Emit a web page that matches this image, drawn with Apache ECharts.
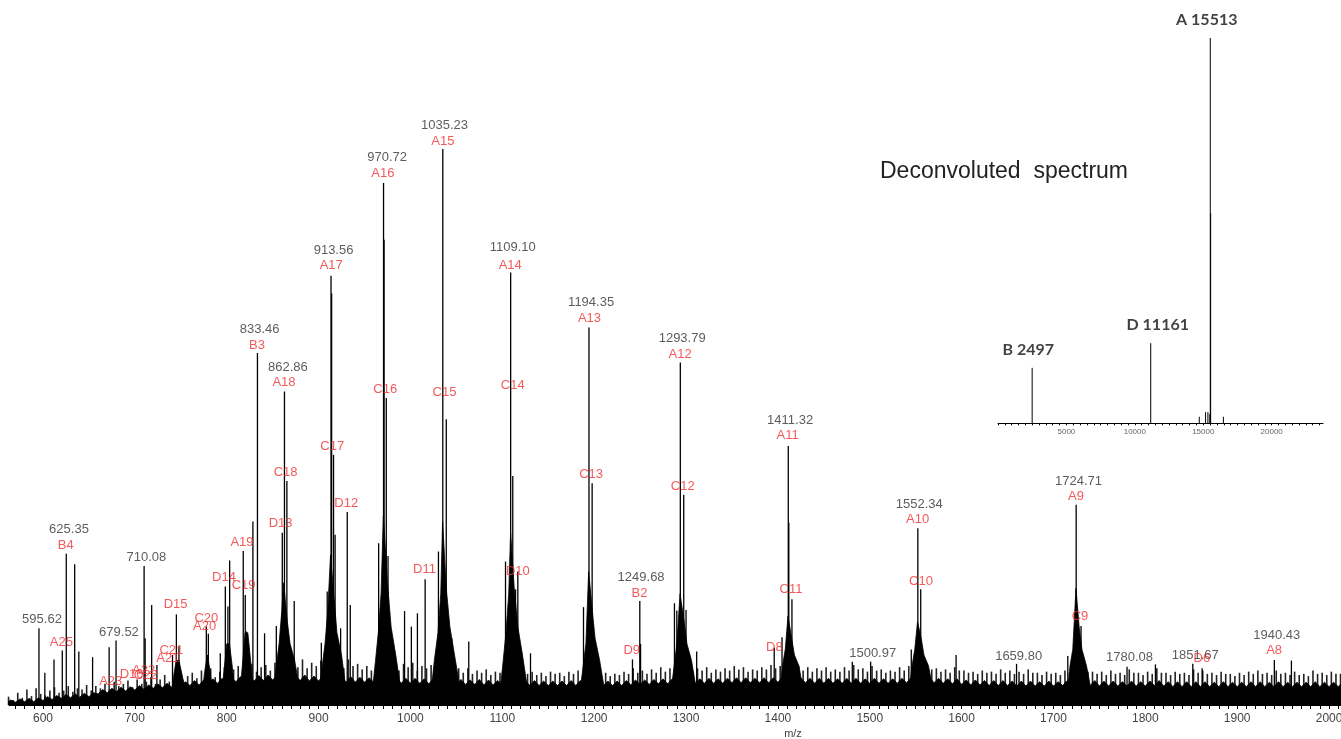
<!DOCTYPE html>
<html><head><meta charset="utf-8">
<script src="https://cdn.jsdelivr.net/npm/echarts@6/dist/echarts.min.js"></script>
<style>html,body{margin:0;padding:0;background:#fff}#c{width:1341px;height:739px}</style>
</head><body><div id="c"></div>
<script>
// ---------- main spectrum: m/z axis ----------
const tickLabels = [600,700,800,900,1000,1100,1200,1300,1400,1500,1600,1700,1800,1900,2000];

// labelled / visible peaks (m/z, relative intensity %)
const peakMz  = [595.62,602,612,621,625.35,634.5,639,654,672,679.52,710.08,711.2,718.3,724,741,745.2,748,777.8,780,793,798.5,801.3,803.2,818,820.2,821.3,828.5,833.46,841.2,854,860.5,862.86,865.5,873.5,903,909.4,913.56,914.2,916.3,918,924,931.2,934.5,965.4,970.72,971.3,973.7,975.6,993.6,1001,1007.6,1016,1030.5,1035.23,1039,1045,1063.5,1103.5,1109.10,1111.4,1114.4,1116.9,1130.7,1188.4,1194.35,1197.8,1241.7,1249.68,1250.5,1287.4,1290,1293.79,1297.5,1300,1311.6,1396,1404.5,1411.32,1411.9,1415.3,1481,1500.97,1545.2,1552.34,1555.5,1594,1659.80,1715.6,1724.71,1730,1780.08,1811,1851.67,1861.8,1940.43,1959];
const peakInt = [13.8,5.8,8.2,9.8,27.2,25.3,9.6,8.6,10.4,11.6,25.0,12.0,18.0,7.2,9.0,16.3,10.5,14.1,12.8,9.3,21.3,17.7,26.0,27.7,19.8,13.2,33.0,63.3,12.9,14.2,31.0,56.4,40.3,18.7,11.2,20.4,77.2,74.0,45.0,30.6,13.8,34.7,18.0,29.1,93.9,83.7,55.2,26.8,16.9,14.1,16.5,22.6,27.6,100,51.4,12.0,11.4,25.8,77.8,41.2,20.8,24.0,9.3,17.6,67.9,39.9,8.2,18.7,11.0,18.3,17.0,61.6,37.8,17.1,9.6,10.3,12.2,46.6,32.8,19.0,7.8,7.8,10.0,31.8,20.8,9.0,7.4,8.8,36.0,14.2,6.9,7.3,7.4,6.6,8.1,8.0];

// broad bases under the main charge-state clusters
const clusterMz  = [738,742,745,748,752,756, 772,776,779,782,786, 793,797,800,803,806,810, 813,817,820,823,826,830,
  849,854,857,860,862,864,866,869,874,882, 899,904,907,910,913,915,917,920,925,932,
  957,962,965,968,970.5,972.5,975,979,984,992, 1021,1026,1030,1033,1035,1037,1039,1043,1048,1057,
  1096,1101,1104,1107,1109,1111,1113,1117,1122,1130, 1183,1188,1191,1194,1196,1198,1201,1206,1214,
  1282,1287,1290,1293.5,1295.5,1298,1301,1306,1314, 1401,1405,1408,1411,1413,1415,1418,1423,1430,
  1541,1546,1549,1552,1554,1556,1559,1564,1572, 1714,1718,1721,1724.5,1726,1728,1731,1736,1744];
const clusterInt = [0,5,8,8,5,0, 0,6,9,6,0, 0,6,11,11,7,0, 0,7,13,13,8,0,
  0,7,11,17,22,22,15,11,8,0, 0,7,11,17,27,27,19,13,9,0,
  0,8,13,20,34,34,22,14,9,0, 0,8,13,20,33,33,21,14,9,0,
  0,8,13,20,31,31,21,14,9,0, 0,7,11,24,24,17,12,8,0,
  0,7,11,20,20,15,11,8,0, 0,7,10,16,16,12,9,7,0,
  0,7,10,15,15,12,9,7,0, 0,7,10,21,21,14,10,7,0];

// baseline noise: solid band envelope, sampled every 5 m/z from 560
const bandStart = 560, bandStep = 5;
const bandInt = [
  0.4,0.9,0.5,1.1,0.6,1.2,0.6,1.3,0.8,1.5,1.0,1.7,1.2,1.9,1.3,2.0,1.4,2.1,1.5,2.2,
  2.0,2.8,2.2,3.0,2.4,3.2,2.5,3.3,2.7,3.5,2.8,3.6,3.0,3.8,3.1,3.9,3.2,4.0,3.4,4.2,
  3.5,4.4,3.6,4.5,3.8,4.7,3.9,4.8,4.1,5.0,4.2,5.1,4.3,5.2,4.3,5.3,4.4,5.4,4.5,5.4,
  4.5,5.4,4.4,5.3,4.4,5.4,4.3,5.2,4.3,5.3,4.3,5.2,4.2,5.1,4.1,5.1,4.1,5.0,4.1,4.9,
  4.1,5.0,4.0,5.0,4.0,4.9,3.9,4.8,3.9,4.8,3.9,4.7,3.8,4.7,3.8,4.6,3.8,4.7,3.7,4.6,
  3.7,4.5,3.7,4.6,3.6,4.5,3.6,4.4,3.6,4.5,3.6,4.5,3.6,4.4,3.5,4.4,3.5,4.3,3.5,4.3,
  3.5,4.3,3.5,4.4,3.5,4.4,3.6,4.5,3.6,4.4,3.5,4.3,3.5,4.3,3.5,4.4,3.6,4.5,3.7,4.5,
  3.7,4.6,3.8,4.7,3.8,4.7,3.9,4.8,3.9,4.8,3.9,4.7,3.9,4.8,3.9,4.7,3.9,4.8,4.0,4.9,
  4.0,4.9,4.0,4.8,4.0,4.9,4.0,4.9,4.1,5.0,4.1,5.0,4.0,4.9,4.0,4.8,3.9,4.8,3.9,4.8,
  3.9,4.7,3.9,4.8,3.9,4.8,3.9,4.7,3.9,4.8,3.9,4.7,3.9,4.7,3.9,4.8,4.0,4.9,4.1,5.0,
  4.1,5.0,4.0,4.8,3.9,4.7,3.8,4.7,3.7,4.5,3.6,4.5,3.6,4.4,3.5,4.4,3.5,4.4,3.5,4.3,
  3.4,4.3,3.4,4.3,3.4,4.2,3.4,4.3,3.4,4.2,3.5,4.4,3.6,4.5,3.7,4.6,3.5,4.4,3.4,4.3,
  3.4,4.3,3.4,4.2,3.4,4.3,3.4,4.2,3.4,4.3,3.5,4.4,3.4,4.2,3.3,4.2,3.3,4.2,3.3,4.2,
  3.3,4.2,3.3,4.1,3.3,4.2,3.3,4.1,3.3,4.1,3.3,4.2,3.3,4.2,3.3,4.1,3.3,4.2,3.3,4.1,
  3.3,4.1,3.3,4.1,3.3,4.2,3.3,4.1,3.3,4.1,3.3,4.1];

// baseline noise: thin spikes above the band, every 5 m/z from 562.5
const spikeStart = 562.5, spikeStep = 5;
const spikeInt = [
  1.5,0.9,2.2,1.3,2.8,1.6,3.0,2.0,1.7,2.6,3.2,2.2,2.6,3.4,2.4,3.0,2.8,3.6,2.6,3.4,
  3.0,3.8,2.8,4.2,3.4,3.8,4.4,3.2,4.6,3.8,4.2,5.0,3.8,4.6,5.4,4.2,4.8,5.6,4.6,5.2,
  5.8,4.8,6.2,5.4,6.6,5.0,6.0,6.8,5.6,6.4,7.0,5.8,6.6,7.4,6.0,6.8,7.2,6.2,7.6,6.8,
  7.4,6.4,7.8,6.8,8.2,6.6,7.6,7.0,8.0,6.8,8.6,7.2,7.8,6.6,8.2,7.0,7.4,6.4,7.0,6.2,
  7.2,6.4,7.8,6.6,7.0,6.2,7.4,6.8,7.6,6.2,7.0,6.6,7.2,6.0,6.8,6.4,7.2,6.2,6.6,5.8,
  6.6,5.6,6.2,5.8,6.4,5.4,6.0,5.8,6.2,6.6,7.0,5.8,6.4,5.6,6.0,5.4,5.8,5.2,6.0,5.6,
  5.8,5.2,6.0,5.6,6.2,5.4,6.4,6.0,6.2,5.6,5.8,5.2,5.6,5.4,6.0,5.6,6.6,5.8,6.2,5.6,
  6.4,5.8,6.8,6.0,6.6,6.2,7.0,6.4,7.2,6.0,6.6,6.2,6.8,5.8,6.4,6.0,6.6,6.2,7.0,6.4,
  6.8,6.0,6.4,6.2,6.8,6.4,7.2,6.6,7.0,6.4,7.4,6.6,7.0,6.2,6.8,6.0,6.6,6.2,6.8,6.0,
  6.4,6.0,6.8,6.2,7.2,6.4,6.6,6.0,7.0,6.2,6.4,5.8,6.2,6.0,6.8,6.2,7.0,6.6,7.2,6.8,
  7.0,6.4,6.6,6.0,6.4,5.8,6.8,6.2,6.2,5.8,6.0,5.6,6.2,5.8,6.0,5.6,6.4,5.8,6.2,5.6,
  6.0,5.6,6.4,5.8,5.8,5.4,6.0,5.6,5.8,5.4,6.2,5.8,6.4,6.0,6.6,6.0,6.0,5.6,6.0,5.4,
  6.2,5.6,5.8,5.4,6.4,5.8,5.8,5.4,6.0,5.6,6.6,5.8,5.8,5.4,6.0,5.6,5.8,5.4,6.4,5.8,
  6.2,5.6,5.8,5.4,6.0,5.6,5.6,5.2,5.8,5.4,6.0,5.6,6.2,5.6,5.8,5.4,6.2,5.6,5.8,5.4,
  6.0,5.4,5.6,5.2,6.2,5.6,5.8,5.4,6.0,5.6,5.6,5.2];

// black m/z annotations (anchor m/z, anchor intensity, text)
const massLabelMz  = [598.9,628.3,682.7,712.5,835.8,866.6,916.3,974.7,1037.1,1111.4,1196.7,1251.1,1295.8,1413.3,1503.2,1553.9,1662.1,1727.3,1782.8,1854.3,1943.1];
const massLabelInt = [15.4,31.6,13.0,26.6,67.6,60.7,81.7,98.5,104.3,82.3,72.4,23.0,66.0,51.1,9.3,36.1,8.8,40.3,8.5,9.0,12.6];
const massLabelText = ['595.62','625.35','679.52','710.08','833.46','862.86','913.56','970.72','1035.23','1109.10','1194.35','1249.68','1293.79','1411.32','1500.97','1552.34','1659.80','1724.71','1780.08','1851.67','1940.43'];

// red ion-series annotations
const ionLabelMz  = [624.7,620,673.7,696.5,709.6,711.8,739.7,736.0,744.4,777.8,776,797,818.4,816.6,832.9,862.3,864.1,858.7,914.9,930.1,972.6,913.8,970,1035.3,1108.6,1194.9,1037.1,1111.4,1015.3,1116.9,1196.7,1249.3,1240.9,1293.6,1296.4,1410.6,1414.3,1396.2,1552.1,1555.8,1724.5,1728.9,1861.6,1940.2];
const ionLabelInt = [28.7,11.2,4.2,5.5,6.2,5.4,9.9,8.4,18.0,15.5,14.1,23.0,21.5,29.3,64.7,58.0,41.8,32.7,46.5,36.3,56.8,79.0,95.6,101.3,79.1,69.5,56.3,57.4,24.3,24.0,41.4,20.1,9.9,63.1,39.3,48.4,20.7,10.4,33.3,22.3,37.6,15.9,8.3,9.8];
const ionLabelText = ['B4','A25','A23','D16','A22','C22','C21','A21','D15','C20','A20','D14','C19','A19','B3','A18','C18','D13','C17','D12','C16','A17','A16','A15','A14','A13','C15','C14','D11','D10','C13','B2','D9','A12','C12','A11','C11','D8','A10','C10','A9','C9','D6','A8'];

// ---------- inset: deconvoluted spectrum ----------
const deconMass = [2497,11161,14708,15170,15340,15480,15513,15540,16470];
const deconInt  = [14.4,20.8,1.7,2.9,2.9,2.4,100,54.5,1.7];
const deconLabelMass = [2215,11674,15256];
const deconLabelInt  = [19.0,25.5,104.7];
const deconLabelText = ['B 2497','D 11161','A 15513'];

// ---------- build ----------
const FONT = '"Liberation Sans", Arial, sans-serif';
const minorTicks = [];
for (let v = 570; v <= 2010; v += 10) minorTicks.push(v);

const bandData = bandInt.map((v, i) => [bandStart + bandStep * i, v]);
const spikeData = spikeInt.map((v, i) => [spikeStart + spikeStep * i, v]);
const clusterData = clusterMz.map((m, i) => [m, clusterInt[i]]);
const peakData = peakMz.map((m, i) => [m, peakInt[i]]);

function stick(width, color) {
  return function (params, api) {
    const p0 = api.coord([api.value(0), 0]);
    const p1 = api.coord([api.value(0), api.value(1)]);
    return { type: 'line', shape: { x1: p0[0], y1: p0[1], x2: p1[0], y2: p1[1] },
      style: { stroke: color, lineWidth: width } };
  };
}

const chart = echarts.init(document.getElementById('c'), null, { renderer: 'canvas' });
chart.setOption({
  animation: false,
  backgroundColor: '#fff',
  grid: [
    { left: 9, width: 1332, top: 149, height: 556, containLabel: false, outerBoundsMode: 'none' },
    { left: 998, width: 325, top: 38, height: 385.3, containLabel: false, outerBoundsMode: 'none' }
  ],
  xAxis: [
    { gridIndex: 0, type: 'value', min: 563, max: 2013,
      axisLine: { show: true, onZero: false, lineStyle: { color: '#000', width: 1 } },
      axisTick: { show: true, customValues: minorTicks, length: 4, lineStyle: { color: '#000' } },
      axisLabel: { customValues: tickLabels, color: '#444', fontSize: 12, margin: 8, fontFamily: FONT,
        formatter: v => String(v) },
      splitLine: { show: false } },
    { gridIndex: 1, type: 'value', min: 0, max: 23750, interval: 500,
      axisLine: { show: true, onZero: false, lineStyle: { color: '#000', width: 1 } },
      axisTick: { show: true, length: 2, lineStyle: { color: '#000' } },
      axisLabel: { color: '#666', fontSize: 8, margin: 4, fontFamily: FONT, showMaxLabel: false,
        formatter: v => (v > 0 && v % 5000 === 0) ? String(v) : '' },
      splitLine: { show: false } }
  ],
  yAxis: [
    { gridIndex: 0, type: 'value', min: 0, max: 100, show: false },
    { gridIndex: 1, type: 'value', min: 0, max: 100, show: false }
  ],
  graphic: [
    { type: 'text', left: 880, top: 160, style: { text: 'Deconvoluted  spectrum', font: '23px ' + FONT, fill: '#222' } },
    { type: 'text', x: 793, y: 734, style: { text: 'm/z', font: '11px ' + FONT, fill: '#444', align: 'center', verticalAlign: 'middle' } }
  ],
  series: [
    { type: 'custom', xAxisIndex: 0, yAxisIndex: 0, data: spikeData, renderItem: stick(1.6, '#222'), silent: true,
      encode: { x: 0, y: 1 }, z: 1 },
    { type: 'line', xAxisIndex: 0, yAxisIndex: 0, data: bandData, showSymbol: false, silent: true,
      lineStyle: { color: '#000', width: 0.8 }, areaStyle: { color: '#000', opacity: 1 }, z: 2 },
    { type: 'line', xAxisIndex: 0, yAxisIndex: 0, data: clusterData, showSymbol: false, silent: true,
      lineStyle: { color: '#000', width: 0.8 }, areaStyle: { color: '#000', opacity: 1 }, z: 2 },
    { type: 'custom', xAxisIndex: 0, yAxisIndex: 0, data: peakData, renderItem: stick(1.3, '#000'), silent: true, clip: false,
      encode: { x: 0, y: 1 }, z: 3 },
    { type: 'scatter', xAxisIndex: 0, yAxisIndex: 0, symbolSize: 0, silent: true, clip: false, z: 5,
      data: massLabelMz.map((m, i) => [m, massLabelInt[i], massLabelText[i]]),
      label: { show: true, position: 'inside', formatter: p => p.data[2], color: '#333', fontSize: 13, fontFamily: FONT } },
    { type: 'scatter', xAxisIndex: 0, yAxisIndex: 0, symbolSize: 0, silent: true, clip: false, z: 5,
      data: ionLabelMz.map((m, i) => [m, ionLabelInt[i], ionLabelText[i]]),
      label: { show: true, position: 'inside', formatter: p => p.data[2], color: '#f03030', fontSize: 13, fontFamily: FONT } },
    { type: 'custom', xAxisIndex: 1, yAxisIndex: 1, data: deconMass.map((m, i) => [m, deconInt[i]]),
      renderItem: stick(1, '#000'), silent: true, clip: false, encode: { x: 0, y: 1 }, z: 3 },
    { type: 'scatter', xAxisIndex: 1, yAxisIndex: 1, symbolSize: 0, silent: true, clip: false, z: 5,
      data: deconLabelMass.map((m, i) => [m, deconLabelInt[i], deconLabelText[i]]),
      label: { show: true, position: 'inside', formatter: p => p.data[2], color: '#111', fontSize: 16,
        fontWeight: 'bold', fontFamily: 'Lato, "Open Sans", sans-serif' } }
  ]
});
</script>
</body></html>
